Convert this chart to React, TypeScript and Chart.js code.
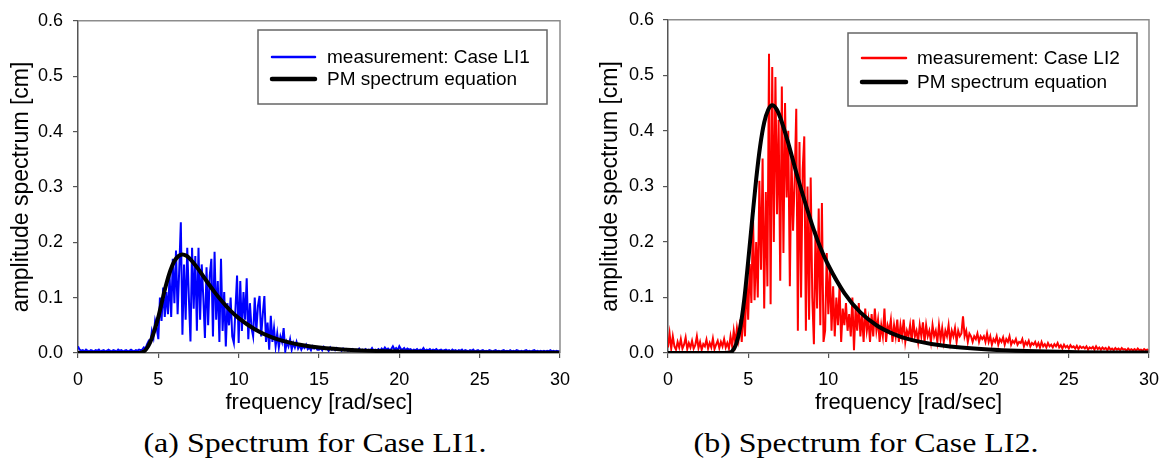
import React, { useEffect, useRef } from "react";
import { Chart, registerables } from "chart.js";

Chart.register(...registerables);

// ---------- data ----------
const FREQ_START = 0; // rad/sec, first sample of the measured spectra
const FREQ_STEP = 0.1; // rad/sec, sample spacing of the measured spectra

const MEAS_LI1 = [
  0.012, 0.006, 0.004, 0.005, 0.003, 0.006, 0.004, 0.003, 0.005, 0.004,
  0.003, 0.005, 0.004, 0.006, 0.003, 0.004, 0.005, 0.003, 0.004, 0.006,
  0.004, 0.003, 0.005, 0.004, 0.003, 0.006, 0.004, 0.005, 0.003, 0.004,
  0.005, 0.003, 0.004, 0.006, 0.004, 0.003, 0.005, 0.004, 0.006, 0.005,
  0.006, 0.01, 0.008, 0.016, 0.022, 0.018, 0.04, 0.028, 0.058, 0.045,
  0.025, 0.1, 0.058, 0.118, 0.065, 0.11, 0.07, 0.14, 0.065, 0.17,
  0.09, 0.185, 0.07, 0.15, 0.236, 0.033, 0.16, 0.06, 0.19, 0.1,
  0.021, 0.19, 0.08, 0.175, 0.04, 0.19, 0.06, 0.16, 0.1, 0.027,
  0.155, 0.05, 0.14, 0.17, 0.03, 0.183, 0.06, 0.13, 0.02, 0.17,
  0.04, 0.11, 0.012, 0.09, 0.05, 0.1, 0.03, 0.018, 0.08, 0.14,
  0.018, 0.13, 0.04, 0.11, 0.06, 0.135, 0.025, 0.09, 0.045, 0.03,
  0.1, 0.04, 0.085, 0.103, 0.03, 0.07, 0.103, 0.02, 0.055, 0.006,
  0.067, 0.02, 0.045, 0.012, 0.035, 0.01, 0.03, 0.02, 0.045, 0.003,
  0.02, 0.012, 0.025, 0.006, 0.018, 0.01, 0.02, 0.008, 0.014, 0.006,
  0.012, 0.009, 0.015, 0.007, 0.01, 0.005, 0.012, 0.008, 0.01, 0.006,
  0.006, 0.009, 0.005, 0.011, 0.007, 0.008, 0.004, 0.01, 0.006, 0.008,
  0.005, 0.009, 0.006, 0.007, 0.004, 0.008, 0.005, 0.007, 0.004, 0.006,
  0.005, 0.007, 0.004, 0.006, 0.005, 0.008, 0.004, 0.006, 0.005, 0.007,
  0.004, 0.006, 0.005, 0.009, 0.004, 0.006, 0.005, 0.007, 0.004, 0.008,
  0.005, 0.01, 0.006, 0.008, 0.005, 0.007, 0.012, 0.006, 0.009, 0.005,
  0.012, 0.007, 0.006, 0.009, 0.005, 0.008, 0.006, 0.007, 0.004, 0.006,
  0.005, 0.007, 0.004, 0.006, 0.005, 0.009, 0.004, 0.006, 0.005, 0.007,
  0.004, 0.006, 0.005, 0.007, 0.004, 0.005, 0.006, 0.004, 0.005, 0.006,
  0.004, 0.005, 0.003, 0.006, 0.004, 0.005, 0.003, 0.005, 0.004, 0.006,
  0.003, 0.005, 0.004, 0.003, 0.005, 0.004, 0.006, 0.003, 0.004, 0.005,
  0.003, 0.004, 0.005, 0.003, 0.004, 0.003, 0.005, 0.004, 0.003, 0.004,
  0.005, 0.003, 0.004, 0.003, 0.004, 0.005, 0.003, 0.004, 0.003, 0.005,
  0.003, 0.004, 0.003, 0.005, 0.004, 0.003, 0.004, 0.003, 0.004, 0.005,
  0.003, 0.004, 0.003, 0.004, 0.005, 0.003, 0.004, 0.003, 0.004, 0.003,
  0.004, 0.003, 0.004, 0.003, 0.005, 0.003, 0.004, 0.003, 0.004, 0.003,
  0.003,
];

const MEAS_LI2 = [
  0.01, 0.035, 0.008, 0.03, 0.012, 0.006, 0.02, 0.01, 0.025, 0.008,
  0.015, 0.028, 0.007, 0.018, 0.01, 0.022, 0.008, 0.014, 0.03, 0.009,
  0.02, 0.006, 0.016, 0.012, 0.024, 0.008, 0.018, 0.01, 0.026, 0.007,
  0.015, 0.022, 0.009, 0.02, 0.012, 0.025, 0.01, 0.018, 0.008, 0.03,
  0.012, 0.04, 0.018, 0.045, 0.025, 0.06, 0.02, 0.085, 0.03, 0.137,
  0.06, 0.16, 0.09, 0.25, 0.095, 0.2, 0.1, 0.31, 0.15, 0.35,
  0.08, 0.29, 0.12, 0.539, 0.088, 0.515, 0.2, 0.497, 0.25, 0.42,
  0.13, 0.48, 0.18, 0.45, 0.28, 0.4, 0.12, 0.36, 0.22, 0.31,
  0.44, 0.04, 0.38, 0.1, 0.33, 0.39, 0.04, 0.3, 0.06, 0.316,
  0.1, 0.016, 0.22, 0.08, 0.26, 0.05, 0.27, 0.02, 0.04, 0.18,
  0.07, 0.15, 0.04, 0.12, 0.03, 0.1, 0.05, 0.12, 0.02, 0.08,
  0.05, 0.09, 0.04, 0.07, 0.03, 0.1, 0.005, 0.08, 0.04, 0.09,
  0.03, 0.07, 0.02, 0.08, 0.04, 0.06, 0.02, 0.07, 0.03, 0.08,
  0.04, 0.06, 0.02, 0.05, 0.03, 0.08, 0.02, 0.05, 0.04, 0.06,
  0.02, 0.05, 0.03, 0.06, 0.02, 0.05, 0.03, 0.06, 0.02, 0.04,
  0.03, 0.05, 0.02, 0.06, 0.03, 0.04, 0.02, 0.05, 0.03, 0.055,
  0.02, 0.05, 0.03, 0.04, 0.02, 0.05, 0.03, 0.04, 0.02, 0.05,
  0.025, 0.045, 0.02, 0.04, 0.03, 0.05, 0.02, 0.04, 0.03, 0.045,
  0.02, 0.04, 0.03, 0.035, 0.066, 0.03, 0.04, 0.02, 0.035, 0.03,
  0.02, 0.03, 0.025, 0.035, 0.02, 0.03, 0.025, 0.03, 0.02, 0.035,
  0.02, 0.03, 0.015, 0.025, 0.02, 0.03, 0.015, 0.025, 0.02, 0.028,
  0.015, 0.025, 0.02, 0.03, 0.015, 0.022, 0.018, 0.025, 0.015, 0.02,
  0.018, 0.025, 0.012, 0.02, 0.015, 0.022, 0.012, 0.018, 0.015, 0.02,
  0.012, 0.018, 0.01, 0.02, 0.012, 0.016, 0.01, 0.018, 0.012, 0.015,
  0.01, 0.016, 0.012, 0.018, 0.01, 0.014, 0.008, 0.015, 0.01, 0.013,
  0.008, 0.014, 0.01, 0.012, 0.008, 0.013, 0.007, 0.012, 0.009, 0.011,
  0.008, 0.012, 0.006, 0.01, 0.008, 0.011, 0.006, 0.012, 0.007, 0.01,
  0.006, 0.01, 0.007, 0.009, 0.005, 0.01, 0.006, 0.008, 0.005, 0.009,
  0.006, 0.008, 0.005, 0.009, 0.006, 0.007, 0.004, 0.008, 0.005, 0.007,
  0.005, 0.007, 0.004, 0.008, 0.005, 0.006, 0.004, 0.007, 0.005, 0.006,
  0.005,
];

const PM_FREQ = [
  0, 3.5, 3.75, 4, 4.25, 4.5, 4.75, 5, 5.25, 5.5, 5.75, 6, 6.25, 6.5, 6.75,
  7, 7.5, 8, 8.5, 9, 9.5, 10, 11, 12, 13, 14, 15, 17, 20, 25, 30,
];
const PM_LI1 = [
  0, 0, 0.0001, 0.0012, 0.007, 0.02, 0.04, 0.065, 0.0958, 0.125, 0.149,
  0.166, 0.175, 0.178, 0.1756, 0.169, 0.151, 0.13, 0.11, 0.092, 0.076,
  0.063, 0.043, 0.029, 0.02, 0.014, 0.01, 0.0055, 0.0025, 0.0008, 0.0003,
];
const PM_LI2 = [
  0, 0, 0.0003, 0.003, 0.016, 0.045, 0.095, 0.165, 0.24, 0.313, 0.373,
  0.415, 0.438, 0.446, 0.44, 0.424, 0.378, 0.325, 0.276, 0.23, 0.19,
  0.158, 0.108, 0.073, 0.05, 0.035, 0.025, 0.0138, 0.0063, 0.002, 0.0008,
];

const LABEL_LI1 = "measurement: Case LI1";
const LABEL_LI2 = "measurement: Case LI2";
const LABEL_PM = "PM spectrum equation";
const X_TITLE = "frequency [rad/sec]";
const Y_TITLE = "amplitude spectrum [cm]";
const CAPTION_A = "(a) Spectrum for Case LI1.";
const CAPTION_B = "(b) Spectrum for Case LI2.";

// ---------- styling ----------
const SANS = "'Liberation Sans', Arial, sans-serif";
const SERIF = "'Liberation Serif', 'Times New Roman', serif";

const framePlugin = {
  id: "frameLegend",
  afterDraw(chart: any, _args: any, opts: any) {
    const { ctx, chartArea: a } = chart;
    ctx.save();
    // top / right frame
    ctx.strokeStyle = "#8c8c8c";
    ctx.lineWidth = 1.5;
    ctx.beginPath();
    ctx.moveTo(a.left, a.top);
    ctx.lineTo(a.right, a.top);
    ctx.lineTo(a.right, a.bottom);
    ctx.stroke();

    // legend box
    const L = opts.box;
    if (L) {
      ctx.fillStyle = "#ffffff";
      ctx.fillRect(L.x, L.y, L.w, L.h);
      ctx.strokeStyle = "#666666";
      ctx.lineWidth = 1.5;
      ctx.strokeRect(L.x, L.y, L.w, L.h);
      const order = [1, 0];
      order.forEach((dsIndex, row) => {
        const ds = chart.data.datasets[dsIndex];
        const y = L.rowY[row];
        ctx.strokeStyle = ds.borderColor;
        ctx.lineWidth = dsIndex === 0 ? 4.5 : 2.5;
        ctx.lineCap = "round";
        ctx.beginPath();
        ctx.moveTo(L.lineX0, y);
        ctx.lineTo(L.lineX1, y);
        ctx.stroke();
        ctx.fillStyle = "#000";
        ctx.font = `19px ${SANS}`;
        ctx.textBaseline = "middle";
        ctx.textAlign = "left";
        ctx.fillText(ds.label, L.textX, y + 1);
      });
    }
    ctx.restore();
  },
};

type PanelCfg = {
  left: number;
  meas: number[];
  pm: number[];
  color: string;
  label: string;
  yWidth: number;
  yTitlePad: number;
  yTickPad: number;
  padRight: number;
  box: any;
};

function makeConfig(p: PanelCfg): any {
  return {
    type: "line",
    data: {
      datasets: [
        {
          label: LABEL_PM,
          data: PM_FREQ.map((x, i) => ({ x, y: p.pm[i] })),
          borderColor: "#000000",
          borderWidth: 4,
          pointRadius: 0,
          cubicInterpolationMode: "monotone",
          fill: false,
          order: 0,
        },
        {
          label: p.label,
          data: p.meas.map((y, i) => ({
            x: +(FREQ_START + i * FREQ_STEP).toFixed(2),
            y,
          })),
          borderColor: p.color,
          borderWidth: 2,
          pointRadius: 0,
          tension: 0,
          fill: false,
          order: 1,
        },
      ],
    },
    options: {
      animation: false,
      responsive: false,
      maintainAspectRatio: false,
      devicePixelRatio: 1,
      layout: { padding: { left: 0, right: p.padRight, top: 18, bottom: 0 } },
      plugins: {
        legend: { display: false },
        tooltip: { enabled: false },
        frameLegend: { box: p.box },
      },
      scales: {
        x: {
          type: "linear",
          min: 0,
          max: 30,
          ticks: {
            stepSize: 5,
            color: "#000",
            font: { family: SANS, size: 18 },
            padding: 11,
            maxRotation: 0,
            autoSkip: false,
          },
          grid: {
            display: true,
            drawOnChartArea: false,
            drawTicks: true,
            tickLength: 5,
            color: "#555",
            lineWidth: 1.2,
          },
          border: { display: true, color: "#555", width: 1.5 },
          title: {
            display: true,
            text: X_TITLE,
            color: "#000",
            font: { family: SANS, size: 22 },
            padding: { top: 0, bottom: 4 },
          },
          afterFit: (s: any) => {
            s.height = 67;
          },
        },
        y: {
          type: "linear",
          min: 0,
          max: 0.6,
          ticks: {
            stepSize: 0.1,
            color: "#000",
            font: { family: SANS, size: 18 },
            padding: p.yTickPad,
            callback: (v: any) => Number(v).toFixed(1),
          },
          grid: {
            display: true,
            drawOnChartArea: false,
            drawTicks: true,
            tickLength: 5,
            color: "#555",
            lineWidth: 1.2,
          },
          border: { display: true, color: "#555", width: 1.5 },
          title: {
            display: true,
            text: Y_TITLE,
            color: "#000",
            font: { family: SANS, size: 23 },
            padding: { top: p.yTitlePad, bottom: 0 },
          },
          afterFit: (s: any) => {
            s.width = p.yWidth;
          },
        },
      },
    },
    plugins: [framePlugin],
  };
}

const PANEL_A: PanelCfg = {
  left: 0,
  meas: MEAS_LI1,
  pm: PM_LI1,
  color: "#0000ff",
  label: LABEL_LI1,
  yWidth: 78,
  yTitlePad: 8,
  yTickPad: 10,
  padRight: 25,
  box: { x: 258, y: 30, w: 289, h: 74, lineX0: 272, lineX1: 315, textX: 327, rowY: [57, 79] },
};

const PANEL_B: PanelCfg = {
  left: 585,
  meas: MEAS_LI2,
  pm: PM_LI2,
  color: "#ff0000",
  label: LABEL_LI2,
  yWidth: 83,
  yTitlePad: 12,
  yTickPad: 9,
  padRight: 21,
  box: { x: 263, y: 33, w: 289, h: 73, lineX0: 277, lineX1: 321, textX: 332, rowY: [58, 82] },
};

function SpectrumPanel({ cfg }: { cfg: PanelCfg }) {
  const ref = useRef<HTMLCanvasElement>(null);
  useEffect(() => {
    const chart = new Chart(ref.current as HTMLCanvasElement, makeConfig(cfg));
    return () => chart.destroy();
  }, [cfg]);
  return (
    <canvas
      ref={ref}
      width={585}
      height={420}
      style={{ position: "absolute", left: cfg.left, top: 0, width: 585, height: 420 }}
    />
  );
}

function Caption({ text, cx }: { text: string; cx: number }) {
  return (
    <div
      style={{
        position: "absolute",
        left: cx,
        top: 429,
        fontFamily: SERIF,
        fontSize: 28,
        lineHeight: "28px",
        color: "#000",
        whiteSpace: "nowrap",
        transform: "translateX(-50%) scaleX(1.14)",
      }}
    >
      {text}
    </div>
  );
}

export default function App() {
  return (
    <div
      style={{
        position: "fixed",
        left: 0,
        top: 0,
        width: 1170,
        height: 460,
        background: "#fff",
        overflow: "hidden",
      }}
    >
      <SpectrumPanel cfg={PANEL_A} />
      <SpectrumPanel cfg={PANEL_B} />
      <Caption text={CAPTION_A} cx={315} />
      <Caption text={CAPTION_B} cx={866} />
    </div>
  );
}
